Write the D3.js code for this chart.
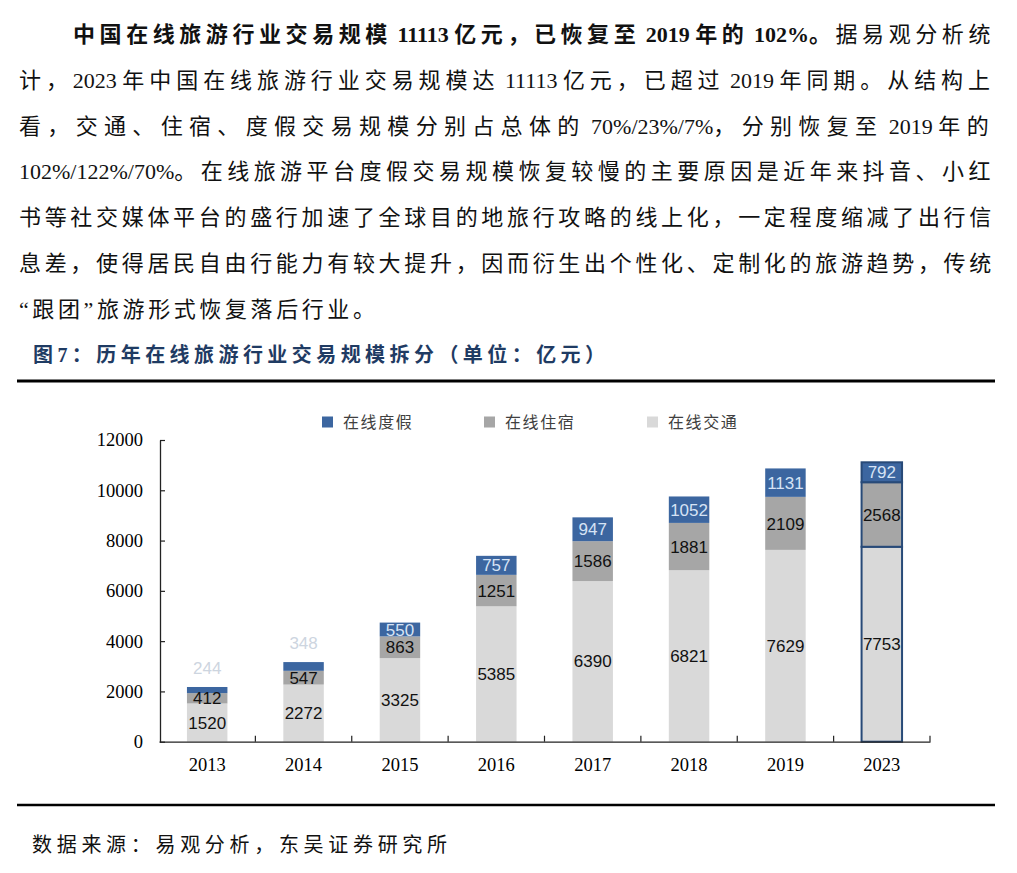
<!DOCTYPE html>
<html><head><meta charset="utf-8">
<script src="https://cdn.jsdelivr.net/npm/d3@7"></script>
<style>
html,body{margin:0;padding:0;background:#fff;}
svg{display:block;}
</style></head>
<body>
<svg id="c" width="1017" height="873"></svg>
<script>
// ---- data ----
const years = ["2013","2014","2015","2016","2017","2018","2019","2023"];
const transport = [1520, 2272, 3325, 5385, 6390, 6821, 7629, 7753];
const lodging   = [412, 547, 863, 1251, 1586, 1881, 2109, 2568];
const vacation  = [244, 348, 550, 757, 947, 1052, 1131, 792];
const seriesNames = ["在线度假", "在线住宿", "在线交通"];
const yTicks = [0, 2000, 4000, 6000, 8000, 10000, 12000];

const paraLines = [
  [{t:"中国在线旅游行业交易规模 11113 亿元，已恢复至 2019 年的 102%。", b:true},{t:"据易观分析统", b:false}],
  [{t:"计，2023 年中国在线旅游行业交易规模达 11113 亿元，已超过 2019 年同期。从结构上", b:false}],
  [{t:"看，交通、住宿、度假交易规模分别占总体的 70%/23%/7%，分别恢复至 2019 年的", b:false}],
  [{t:"102%/122%/70%。在线旅游平台度假交易规模恢复较慢的主要原因是近年来抖音、小红", b:false}],
  [{t:"书等社交媒体平台的盛行加速了全球目的地旅行攻略的线上化，一定程度缩减了出行信", b:false}],
  [{t:"息差，使得居民自由行能力有较大提升，因而衍生出个性化、定制化的旅游趋势，传统", b:false}],
  [{t:"“跟团”旅游形式恢复落后行业。", b:false}]
];
const captionText = "图7：历年在线旅游行业交易规模拆分（单位：亿元）";
const sourceText = "数据来源：易观分析，东吴证券研究所";

// ---- drawing ----
const svg = d3.select("#c");
svg.append("rect").attr("width",1017).attr("height",873).attr("fill","#fff");

const bodyFont = "'Liberation Serif','Noto Sans CJK SC',serif";
const cjk = "'Noto Sans CJK SC',sans-serif";
const isCJK = ch => /[\u3000-\u303f\u4e00-\u9fff\uff00-\uffef\u201c\u201d]/.test(ch);

// paragraph: split into CJK / latin runs; spread extra space over CJK chars only
paraLines.forEach((segs, i) => {
  const yy = 34 + i * 45.8;
  const x0 = i === 0 ? 73 : 19;
  const last = i === paraLines.length - 1;
  const t = svg.append("text")
    .attr("x", x0).attr("y", yy).attr("dy", "0.36em")
    .attr("font-family", bodyFont).attr("font-size", 22).attr("fill", "#111");
  const cjkSpans = [];
  let nCJK = 0;
  segs.forEach(s => {
    let runs = [];
    for (const ch of s.t) {
      const c = isCJK(ch);
      if (runs.length && runs[runs.length-1].c === c) runs[runs.length-1].s += ch;
      else runs.push({c, s: ch});
    }
    runs.forEach(r => {
      const sp = t.append("tspan").attr("font-weight", s.b ? "bold" : "normal").text(r.s);
      if (r.c) { cjkSpans.push(sp); nCJK += [...r.s].length; }
    });
  });
  let ls;
  if (!last) {
    const w = t.node().getComputedTextLength();
    ls = (995 - x0 - w) / Math.max(1, nCJK - 0.0);
  } else ls = 3.6;
  cjkSpans.forEach(sp => sp.attr("letter-spacing", ls));
});

// caption
svg.append("text").attr("x", 33).attr("y", 355).attr("dy", "0.36em")
  .attr("font-family", bodyFont).attr("font-size", 20).attr("font-weight", "bold")
  .attr("fill", "#1f3b63").attr("textLength", 572).attr("lengthAdjust", "spacing")
  .text(captionText);

// rules
svg.append("line").attr("x1", 17).attr("x2", 995).attr("y1", 381).attr("y2", 381)
  .attr("stroke", "#000").attr("stroke-width", 3);
svg.append("line").attr("x1", 17).attr("x2", 995).attr("y1", 805).attr("y2", 805)
  .attr("stroke", "#000").attr("stroke-width", 2.5);

// source
svg.append("text").attr("x", 32).attr("y", 845).attr("dy", "0.36em")
  .attr("font-family", cjk).attr("font-size", 20).attr("fill", "#111")
  .attr("textLength", 415).attr("lengthAdjust", "spacing")
  .text(sourceText);

// chart scales
const x = d3.scaleBand().domain(years).range([159, 930]).paddingInner(0.58).paddingOuter(0.29);
const y = d3.scaleLinear().domain([0, 12000]).range([741.7, 440]);

const colors = {"在线度假":"#3C66A0", "在线住宿":"#A6A6A6", "在线交通":"#D9D9D9"};

// stacked data
const rows = years.map((yr, i) => ({year: yr, "在线交通": transport[i], "在线住宿": lodging[i], "在线度假": vacation[i]}));
const stack = d3.stack().keys(["在线交通", "在线住宿", "在线度假"]);
const stacked = stack(rows);

const g = svg.append("g");
stacked.forEach(layer => {
  g.selectAll(null).data(layer).enter().append("rect")
    .attr("x", d => x(d.data.year))
    .attr("width", x.bandwidth())
    .attr("y", d => y(d[1]))
    .attr("height", d => y(d[0]) - y(d[1]))
    .attr("fill", colors[layer.key])
    .attr("stroke", d => d.data.year === "2023" ? "#284a78" : "none")
    .attr("stroke-width", d => d.data.year === "2023" ? 2 : 0);
});

// axes
const yAxis = d3.axisLeft(y).tickValues(yTicks).tickFormat(d3.format("d"))
  .tickSizeInner(-5).tickSizeOuter(0).tickPadding(17);
const ya = svg.append("g").attr("transform", "translate(160,0)").call(yAxis);
ya.select(".domain").attr("stroke", "#222").attr("stroke-width", 1.3);
ya.selectAll(".tick line").attr("stroke", "#222").attr("stroke-width", 1.2);
ya.selectAll(".tick text").attr("font-family", "'Liberation Serif',serif").attr("font-size", 18.5).attr("fill", "#000");

const xAxis = d3.axisBottom(x).tickSize(0).tickPadding(16);
const xa = svg.append("g").attr("transform", "translate(0,741.7)").call(xAxis);
xa.select(".domain").attr("stroke", "#222").attr("stroke-width", 1.3);
xa.selectAll(".tick text").attr("font-family", "'Liberation Serif',serif").attr("font-size", 18.5).attr("fill", "#000");
// category boundary ticks (inside)
const step = x.step();
const bounds = years.map(yr => x(yr) + x.bandwidth() / 2 + step / 2);
xa.selectAll("line.bt").data(bounds).enter().append("line").attr("class", "bt")
  .attr("x1", d => d).attr("x2", d => d).attr("y1", 0).attr("y2", -6)
  .attr("stroke", "#222").attr("stroke-width", 1.2);

// data labels
const lf = "'Liberation Sans',Arial,sans-serif";
stacked.forEach(layer => {
  g.selectAll(null).data(layer).enter().append("text")
    .attr("x", d => x(d.data.year) + x.bandwidth() / 2)
    .attr("y", d => {
      const h = y(d[0]) - y(d[1]);
      if (layer.key === "在线度假" && h < 12) return y(d[1]) - 19;
      return (y(d[0]) + y(d[1])) / 2;
    })
    .attr("dy", "0.36em")
    .attr("text-anchor", "middle")
    .attr("font-family", lf).attr("font-size", 17)
    .attr("fill", d => {
      if (layer.key !== "在线度假") return "#111";
      const h = y(d[0]) - y(d[1]);
      return h < 12 ? "#cdd5df" : "#d6e3f5";
    })
    .text(d => d.data[layer.key]);
});

// legend
const legendX = [322, 484, 647];
seriesNames.forEach((n, i) => {
  svg.append("rect").attr("x", legendX[i]).attr("y", 416.5).attr("width", 11).attr("height", 11).attr("fill", colors[n]);
  svg.append("text").attr("x", legendX[i] + 21).attr("y", 422).attr("dy", "0.36em")
    .attr("font-family", cjk).attr("font-size", 16).attr("letter-spacing", 1.6).attr("fill", "#404040")
    .text(n);
});
</script>
</body></html>
